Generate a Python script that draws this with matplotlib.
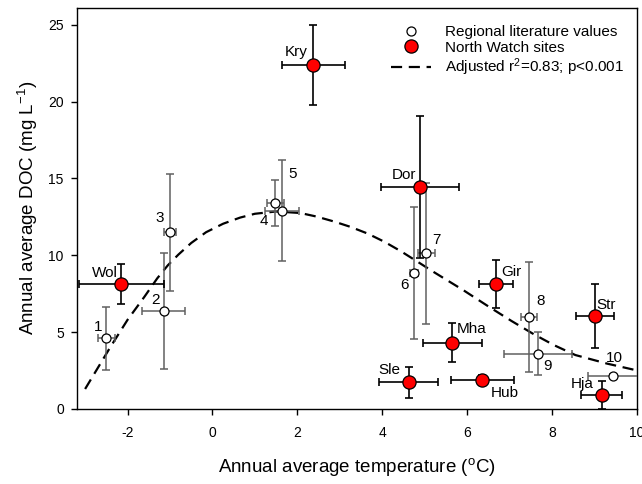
import matplotlib
matplotlib.use("Agg")
import matplotlib.pyplot as plt
from matplotlib.lines import Line2D

plt.rcParams['font.family'] = ['Liberation Sans', 'DejaVu Sans']
plt.rcParams['mathtext.default'] = 'regular'
plt.rcParams['axes.unicode_minus'] = False

# regional literature values (open circles)
reg_labels = ["1", "2", "3", "4", "5", "6", "7", "8", "9", "10"]
reg_temp = [-2.50, -1.15, -1.00, 1.48, 1.65, 4.75, 5.04, 7.46, 7.66, 9.44]
reg_temp_err = [0.20, 0.50, 0.15, 0.20, 0.40, 0.10, 0.20, 0.19, 0.80, 0.60]
reg_doc = [4.60, 6.38, 11.50, 13.39, 12.90, 8.87, 10.13, 5.97, 3.58, 2.17]
reg_doc_err = [2.06, 3.80, 3.80, 1.50, 3.30, 4.30, 4.60, 3.57, 1.40, 0.10]

# North Watch sites (red circles)
nw_labels = ["Wol", "Kry", "Dor", "Gir", "Mha", "Sle", "Hub", "Str", "Hja"]
nw_temp = [-2.15, 2.38, 4.89, 6.67, 5.65, 4.62, 6.36, 9.01, 9.17]
nw_temp_err = [1.00, 0.75, 0.93, 0.40, 0.70, 0.70, 0.75, 0.44, 0.49]
nw_doc = [8.14, 22.35, 14.43, 8.14, 4.32, 1.74, 1.89, 6.05, 0.91]
nw_doc_err = [1.30, 2.60, 4.60, 1.55, 1.28, 1.00, 0.30, 2.10, 0.90]

# fitted curve
fit_temp = [-3.0, -2.4, -2.0, -1.6, -1.3, -1.05, -0.8, -0.5, -0.15, 0.25, 0.65,
            1.0, 1.5, 2.07, 2.45, 2.86, 3.25, 3.65, 4.05, 4.43, 4.85, 5.22, 5.9,
            6.52, 7.05, 7.58, 8.05, 8.55, 9.3, 10.0]
fit_doc = [1.3, 4.05, 5.8, 7.31, 8.5, 9.35, 10.05, 10.8, 11.5, 12.05, 12.45,
           12.7, 12.85, 12.75, 12.52, 12.2, 11.85, 11.42, 10.88, 10.28, 9.55,
           8.9, 7.75, 6.64, 5.72, 4.85, 4.15, 3.51, 2.95, 2.51]

# label offsets in pixels (dx, dy up, ha)
reg_off = [(-4, 11, "right"), (-4, 11, "right"), (-6, 14, "right"), (-7, -18, "right"),
           (6, 37, "left"), (-5, -12, "right"), (6, 13, "left"), (7, 16, "left"),
           (6, -12, "left"), (-7, 18, "left")]
nw_off = [(-3, 11, "right"), (-6, 13, "right"), (-4, 12, "right"), (6, 12, "left"),
          (5, 14, "left"), (-8, 12, "right"), (8, -13, "left"), (2, 11, "left"),
          (-8, 11, "right")]

fig = plt.figure(figsize=(6.42, 4.84), dpi=100)
ax = fig.add_axes([0.12, 0.155, 0.872, 0.8295])

ax.plot(fit_temp, fit_doc, color="black", lw=1.6, linestyle=(0, (5, 3)), zorder=2)

ax.errorbar(reg_temp, reg_doc, xerr=reg_temp_err, yerr=reg_doc_err, fmt="none",
            ecolor="#606060", elinewidth=1.1, capsize=3, capthick=1.1, zorder=3)
ax.plot(reg_temp, reg_doc, "o", ms=6.5, mfc="white", mec="black", mew=0.9, zorder=4)

ax.errorbar(nw_temp, nw_doc, xerr=nw_temp_err, yerr=nw_doc_err, fmt="none",
            ecolor="black", elinewidth=1.2, capsize=3, capthick=1.2, zorder=5)
ax.plot(nw_temp, nw_doc, "o", ms=9.5, mfc="#ff0000", mec="black", mew=0.9, zorder=6)

for lab, x, y, (dx, dy, ha) in zip(reg_labels, reg_temp, reg_doc, reg_off):
    ax.annotate(lab, (x, y), xytext=(dx, dy), textcoords="offset pixels",
                ha=ha, va="center", fontsize=11)
for lab, x, y, (dx, dy, ha) in zip(nw_labels, nw_temp, nw_doc, nw_off):
    ax.annotate(lab, (x, y), xytext=(dx, dy), textcoords="offset pixels",
                ha=ha, va="center", fontsize=11)

ax.set_xlim(-3.19, 10)
ax.set_ylim(0, 26.12)
ax.set_xticks([-2, 0, 2, 4, 6, 8, 10])
ax.set_yticks([0, 5, 10, 15, 20, 25])
ax.tick_params(direction="out", length=4.5, width=1, labelsize=10, pad=5)
ax.tick_params(axis="x", pad=8)
for s in ax.spines.values():
    s.set_linewidth(1)

ax.set_xlabel("Annual average temperature ($^o$C)", fontsize=13.5, labelpad=11)
ax.set_ylabel("Annual average DOC (mg L$^{-1}$)", fontsize=13.5, labelpad=6)

handles = [
    Line2D([], [], ls="none", marker="o", ms=6.5, mfc="white", mec="black", mew=0.9),
    Line2D([], [], ls="none", marker="o", ms=9.5, mfc="#ff0000", mec="black", mew=0.9),
    Line2D([], [], color="black", lw=1.6, linestyle=(0, (5, 3))),
]
ax.legend(handles, ["Regional literature values", "North Watch sites",
                    "Adjusted r$^2$=0.83; p<0.001"],
          loc="upper left", bbox_to_anchor=(0.537, 0.99), frameon=False,
          fontsize=11, handlelength=2.6, labelspacing=0.1, handletextpad=0.9)

fig.savefig("out.png", dpi=100)
